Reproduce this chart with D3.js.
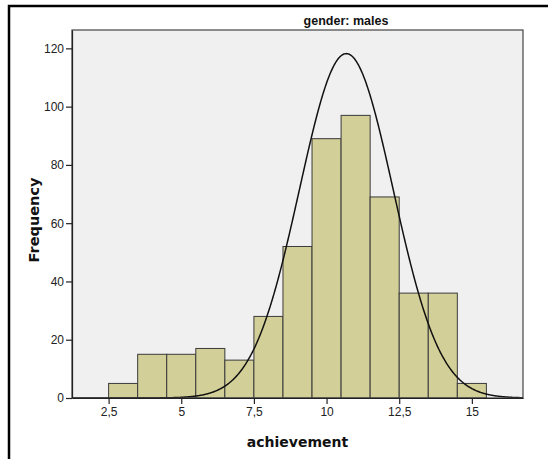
<!DOCTYPE html>
<html>
<head>
<meta charset="utf-8">
<script src="https://cdn.jsdelivr.net/npm/d3@7"></script>
<style>
  html, body { margin: 0; padding: 0; background: #ffffff; }
  svg { display: block; }
</style>
</head>
<body>
<svg id="chart" width="548" height="459"></svg>
<script>
// Histogram of achievement scores for males, with a fitted normal curve.
const binStarts = [2.5, 3.5, 4.5, 5.5, 6.5, 7.5, 8.5, 9.5, 10.5, 11.5, 12.5, 13.5, 14.5];
const counts    = [5, 15, 15, 17, 13, 28, 52, 89, 97, 69, 36, 36, 5];
const binWidth  = 1;
const xTickValues = [2.5, 5, 7.5, 10, 12.5, 15];
const xTickLabels = ["2,5", "5", "7,5", "10", "12,5", "15"];
const yTickValues = [0, 20, 40, 60, 80, 100, 120];
const panelTitle = "gender: males";
const xTitle = "achievement";
const yTitle = "Frequency";
// normal curve parameters
const curveMean = 10.68;
const curveSd = 1.61;

const svg = d3.select("#chart");
const plot = { left: 72, right: 523, top: 30, bottom: 398 };

const x = d3.scaleLinear().domain([1.24, 16.76]).range([plot.left, plot.right]);
const y = d3.scaleLinear().domain([0, 126.3]).range([plot.bottom, plot.top]);

// outer frame
svg.append("path")
  .attr("d", `M9,470 L9,6 L560,6`)
  .attr("fill", "none")
  .attr("stroke", "#000")
  .attr("stroke-width", 2.5);

// plot background
svg.append("rect")
  .attr("x", plot.left).attr("y", plot.top)
  .attr("width", plot.right - plot.left).attr("height", plot.bottom - plot.top)
  .attr("fill", "#f0f0f0");

svg.append("defs").append("clipPath").attr("id", "plotClip")
  .append("rect")
  .attr("x", plot.left).attr("y", plot.top)
  .attr("width", plot.right - plot.left).attr("height", plot.bottom - plot.top);

// bars
svg.append("g").selectAll("rect")
  .data(binStarts.map((s, i) => ({ start: s, count: counts[i] })))
  .join("rect")
  .attr("x", d => x(d.start))
  .attr("y", d => y(d.count))
  .attr("width", d => x(d.start + binWidth) - x(d.start))
  .attr("height", d => y(0) - y(d.count))
  .attr("fill", "#d3cf98")
  .attr("stroke", "#3a3a3a")
  .attr("stroke-width", 1);

// normal curve scaled to the histogram
const total = d3.sum(counts);
const normal = v => total * binWidth / (curveSd * Math.sqrt(2 * Math.PI)) *
  Math.exp(-0.5 * Math.pow((v - curveMean) / curveSd, 2));
const curvePts = d3.range(x.domain()[0], x.domain()[1] + 0.001, 0.02);
svg.append("path")
  .attr("clip-path", "url(#plotClip)")
  .datum(curvePts)
  .attr("fill", "none")
  .attr("stroke", "#111")
  .attr("stroke-width", 1.5)
  .attr("d", d3.line().x(d => x(d)).y(d => y(normal(d))).curve(d3.curveLinear));

// plot border
svg.append("rect")
  .attr("x", plot.left).attr("y", plot.top)
  .attr("width", plot.right - plot.left).attr("height", plot.bottom - plot.top)
  .attr("fill", "none")
  .attr("stroke", "#444")
  .attr("stroke-width", 1.2);

// axes
const xAxis = d3.axisBottom(x)
  .tickValues(xTickValues)
  .tickFormat((d, i) => xTickLabels[i])
  .tickSize(6).tickSizeOuter(0).tickPadding(3);
const yAxis = d3.axisLeft(y)
  .tickValues(yTickValues)
  .tickSize(6).tickSizeOuter(0).tickPadding(2);

const gx = svg.append("g").attr("transform", `translate(0,${plot.bottom})`).call(xAxis);
const gy = svg.append("g").attr("transform", `translate(${plot.left},0)`).call(yAxis);
[gx, gy].forEach(g => {
  g.select(".domain").attr("stroke", "#222").attr("stroke-width", 1.2);
  g.selectAll(".tick line").attr("stroke", "#222").attr("stroke-width", 1.2);
  g.selectAll(".tick text")
    .attr("font-family", "'Liberation Sans', Arial, sans-serif")
    .attr("font-size", 12)
    .attr("fill", "#222");
});

// titles
svg.append("text")
  .attr("x", 346).attr("y", 25)
  .attr("text-anchor", "middle")
  .attr("font-family", "'Liberation Sans', Arial, sans-serif")
  .attr("font-weight", "bold")
  .attr("font-size", 12.5)
  .attr("fill", "#111")
  .text(panelTitle);

svg.append("text")
  .attr("x", (plot.left + plot.right) / 2).attr("y", 447)
  .attr("text-anchor", "middle")
  .attr("font-family", "'DejaVu Sans', Verdana, sans-serif")
  .attr("font-weight", "bold")
  .attr("font-size", 14)
  .attr("fill", "#111")
  .text(xTitle);

svg.append("text")
  .attr("transform", `translate(39,${(plot.top + plot.bottom) / 2 + 6}) rotate(-90)`)
  .attr("text-anchor", "middle")
  .attr("font-family", "'DejaVu Sans', Verdana, sans-serif")
  .attr("font-weight", "bold")
  .attr("font-size", 14.5)
  .attr("fill", "#111")
  .text(yTitle);
</script>
</body>
</html>
